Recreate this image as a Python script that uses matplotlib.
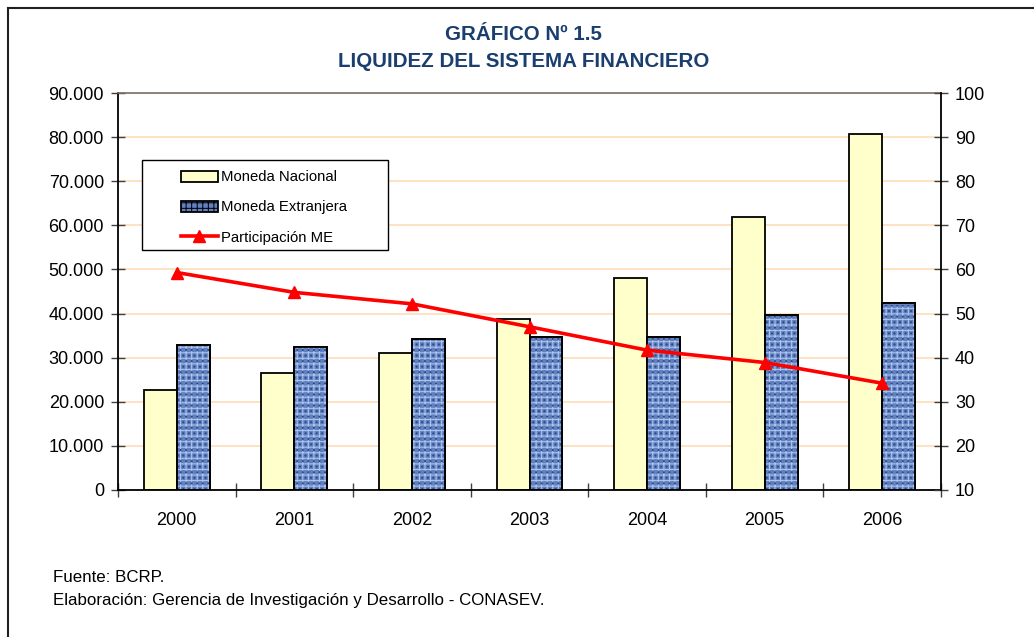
import matplotlib.pyplot as plt
from matplotlib.lines import Line2D
from matplotlib.patches import Rectangle
from matplotlib.ticker import FuncFormatter

plt.rcParams['font.family'] = ['Liberation Sans', 'DejaVu Sans']
plt.rcParams['hatch.linewidth'] = 0.7

years = ['2000', '2001', '2002', '2003', '2004', '2005', '2006']
moneda_nacional = [22700, 26600, 31100, 38800, 48000, 61800, 80700]
moneda_extranjera = [32900, 32500, 34200, 34700, 34700, 39700, 42300]
participacion_me = [59.3, 54.8, 52.2, 47.0, 41.7, 38.9, 34.2]

fig = plt.figure(figsize=(10.34, 6.37), dpi=100)
ax = fig.add_axes([0.1141, 0.2308, 0.7960, 0.6232])

x = list(range(len(years)))
w = 0.28
xmn = [i - w / 2 for i in x]
xme = [i + w / 2 for i in x]

ax.bar(xmn, moneda_nacional, width=w, color='#FFFFCC', edgecolor='black',
       linewidth=1.3, zorder=2)
ax.bar(xme, moneda_extranjera, width=w, color='#6080C0', edgecolor='black',
       linewidth=1.3, zorder=2)
# texture on the blue bars
ax.bar(xme, moneda_extranjera, width=w, color='none', edgecolor='#B0C6EE',
       hatch='+++', linewidth=0, zorder=3)
ax.bar(xme, moneda_extranjera, width=w, color='none', edgecolor='#2B4B88',
       hatch='...', linewidth=0, zorder=3)
ax.bar(xme, moneda_extranjera, width=w, color='none', edgecolor='black',
       linewidth=1.3, zorder=4)

ax.set_xlim(-0.5, len(years) - 0.5)
ax.set_ylim(0, 90000)
ax.set_yticks(range(0, 90001, 10000))
ax.yaxis.set_major_formatter(FuncFormatter(lambda v, p: f"{int(v):,}".replace(',', '.')))
ax.set_xticks(x)
ax.set_xticklabels(years)
ax.set_xticks([i - 0.5 for i in range(len(years) + 1)], minor=True)
ax.tick_params(axis='x', which='major', length=0, pad=16, labelsize=13)
ax.tick_params(axis='x', which='minor', direction='inout', length=10, width=1, color='#404040')
ax.tick_params(axis='y', direction='inout', length=10, width=1, color='#404040', labelsize=13, pad=5)
ax.grid(axis='y', color='#FDDDB8', linewidth=1.2)
ax.set_axisbelow(True)
for s in ['left', 'bottom']:
    ax.spines[s].set_linewidth(1.3)
ax.spines['top'].set_color('#7D6E62')
ax.spines['top'].set_linewidth(1.2)
ax.spines['right'].set_visible(False)

ax2 = ax.twinx()
ax2.plot(x, participacion_me, color='#FF0000', linewidth=2.6, marker='^',
         markersize=9, zorder=5)
ax2.set_ylim(10, 100)
ax2.set_yticks(range(10, 101, 10))
ax2.tick_params(axis='y', direction='inout', length=10, width=1, color='#404040', labelsize=13, pad=5)
ax2.spines['right'].set_linewidth(1.3)
ax2.spines['top'].set_visible(False)
ax2.spines['left'].set_visible(False)
ax2.spines['bottom'].set_visible(False)

# legend box drawn separately so it can be wider than its content
ax2.add_patch(Rectangle((0.029, 0.604), 0.299, 0.227, transform=ax2.transAxes,
                        facecolor='white', edgecolor='black', linewidth=1.0, zorder=8))
handles = [
    Rectangle((0, 0), 1, 1, facecolor='#FFFFCC', edgecolor='black', linewidth=1.3),
    Rectangle((0, 0), 1, 1, facecolor='#6080C0', edgecolor='black', linewidth=1.3, hatch='+++'),
    Line2D([], [], color='#FF0000', linewidth=2.6, marker='^', markersize=9),
]
labels = ['Moneda Nacional', 'Moneda Extranjera', 'Participación ME']
leg = ax2.legend(handles, labels, loc='upper left', bbox_to_anchor=(0.076, 0.805),
                 frameon=False, fontsize=10.7,
                 handlelength=2.55, handleheight=0.75, handletextpad=0.15,
                 labelspacing=1.08, borderpad=0, borderaxespad=0)
leg.set_zorder(10)

fig.text(0.506, 0.946, 'GRÁFICO Nº 1.5', ha='center', va='center',
         fontsize=14.8, fontweight='bold', color='#1A3F6E')
fig.text(0.506, 0.903, 'LIQUIDEZ DEL SISTEMA FINANCIERO', ha='center', va='center',
         fontsize=14.8, fontweight='bold', color='#1A3F6E')

fig.text(0.051, 0.093, 'Fuente: BCRP.', ha='left', va='center', fontsize=12.2)
fig.text(0.051, 0.058, 'Elaboración: Gerencia de Investigación y Desarrollo - CONASEV.',
         ha='left', va='center', fontsize=12.2)

# outer frame
fig.add_artist(Line2D([0.0077, 0.0077], [0, 0.987], transform=fig.transFigure,
                      color='#202020', linewidth=1.5))
fig.add_artist(Line2D([0.0077, 1.0], [0.987, 0.987], transform=fig.transFigure,
                      color='#202020', linewidth=1.5))

plt.savefig('out.png', dpi=100)
